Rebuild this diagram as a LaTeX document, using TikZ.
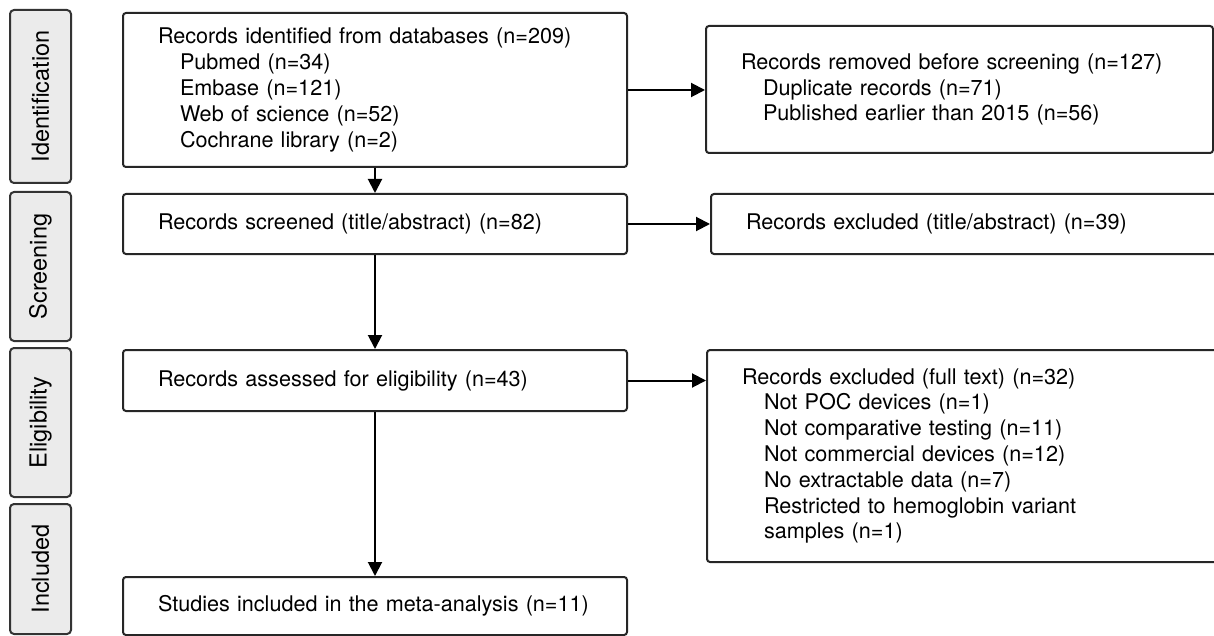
\documentclass[tikz,border=0pt]{standalone}
\usepackage{fontspec}
\setmainfont{TeX Gyre Heros}
\usetikzlibrary{arrows.meta}
\begin{document}
\begin{tikzpicture}[x=1pt,y=-1pt,
  box/.style={draw=black!85, line width=2pt, rounded corners=3pt, inner xsep=35pt, inner ysep=0pt, align=left, anchor=north west, font=\fontsize{21.6}{25.8}\selectfont},
  side/.style={draw=black!80, line width=2pt, rounded corners=4pt, fill=black!8, rotate=90, minimum height=61pt, inner sep=0pt, font=\fontsize{23.5}{28}\selectfont},
  arr/.style={draw=black, line width=2pt, -{Triangle[length=14pt,width=14pt]}}
]
\useasboundingbox (0,0) rectangle (1214,636);
\newcommand{\ind}{\hspace*{22pt}}
% side labels
\node[side, minimum width=173pt] (sid) at (40.5,96.5) {Identification};
\node[side, minimum width=149pt] (ssc) at (40.5,266.5) {Screening};
\node[side, minimum width=149pt] (sel) at (40.5,422.5) {Eligibility};
\node[side, minimum width=130pt] (sin) at (40.5,569) {Included};
% main column
\node[box, text width=434pt, minimum height=154pt] (b1) at (122,12) {Records identified from databases (n=209)\\ \ind Pubmed (n=34)\\ \ind Embase (n=121)\\ \ind Web of science (n=52)\\ \ind Cochrane library (n=2)};
\node[box, text width=434pt, minimum height=60pt] (b2) at (122,193) {Records screened (title/abstract) (n=82)};
\node[box, text width=434pt, minimum height=61pt] (b3) at (122,349) {Records assessed for eligibility (n=43)};
\node[box, text width=434pt, minimum height=58pt] (b4) at (122,576) {Studies included in the meta-analysis (n=11)};
% right column
\node[box, text width=437pt, minimum height=127pt] (rem) at (705,25) {Records removed before screening (n=127)\\ \ind Duplicate records (n=71)\\ \ind Published earlier than 2015 (n=56)};
\node[box, text width=450pt, minimum height=60pt] (exa) at (710,193) {Records excluded (title/abstract) (n=39)};
\node[box, text width=450pt, minimum height=212pt] (exf) at (706,349) {Records excluded (full text) (n=32)\\ \ind Not POC devices (n=1)\\ \ind Not comparative testing (n=11)\\ \ind Not commercial devices (n=12)\\ \ind No extractable data (n=7)\\ \ind Restricted to hemoglobin variant\\ \ind samples (n=1)};
% arrows
\draw[arr] (b1) -- (b2);
\draw[arr] (b2) -- (b3);
\draw[arr] (b3) -- (b4);
\draw[arr] (b1.east) -- (b1.east -| rem.west);
\draw[arr] (b2.east) -- (b2.east -| exa.west);
\draw[arr] (b3.east) -- (b3.east -| exf.west);
\end{tikzpicture}
\end{document}
